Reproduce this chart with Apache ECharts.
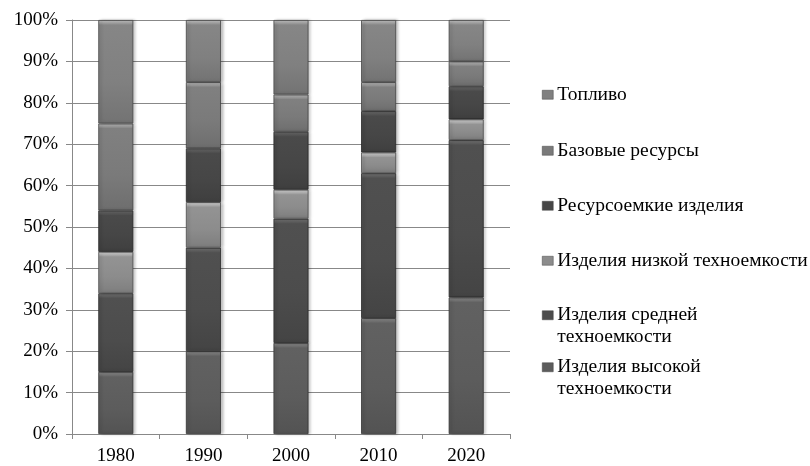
<!DOCTYPE html>
<html><head><meta charset="utf-8">
<script src="https://cdn.jsdelivr.net/npm/echarts@6/dist/echarts.min.js"></script>
<style>html,body{margin:0;padding:0;background:#fff}#c{width:810px;height:466px}</style>
</head><body><div id="c"></div>
<script>
const categories = ['1980', '1990', '2000', '2010', '2020'];
const seriesNames = ['Изделия высокой техноемкости', 'Изделия средней техноемкости', 'Изделия низкой техноемкости', 'Ресурсоемкие изделия', 'Базовые ресурсы', 'Топливо'];
const highTech = [15, 20, 22, 28, 33];
const mediumTech = [19, 25, 30, 35, 38];
const lowTech = [10, 11, 7, 5, 5];
const resourceIntensive = [10, 13, 14, 10, 8];
const basicResources = [21, 16, 9, 7, 6];
const fuel = [25, 15, 18, 15, 10];
const yTicks = [0, 10, 20, 30, 40, 50, 60, 70, 80, 90, 100];

const values = [highTech, mediumTech, lowTech, resourceIntensive, basicResources, fuel];
const colors = ['#5c5c5c', '#4c4c4c', '#8c8c8c', '#464646', '#7a7a7a', '#808080'];

function shade(hex, f) {
  const n = parseInt(hex.slice(1), 16);
  const r = Math.max(0, Math.min(255, Math.round(((n >> 16) & 255) * f)));
  const g = Math.max(0, Math.min(255, Math.round(((n >> 8) & 255) * f)));
  const b = Math.max(0, Math.min(255, Math.round((n & 255) * f)));
  return 'rgb(' + r + ',' + g + ',' + b + ')';
}
// plot height in px is 416 for 100%, used only for the bevel highlight size
function grad(c, v) {
  const segPx = v * 4.16;
  const h = Math.min(0.3, 5 / segPx);
  return new echarts.graphic.LinearGradient(0, 0, 0, 1, [
    {offset: 0, color: shade(c, 1.55)},
    {offset: h * 0.5, color: shade(c, 1.3)},
    {offset: h, color: shade(c, 1.05)},
    {offset: 0.6, color: c},
    {offset: 1, color: shade(c, 0.9)}
  ]);
}

const font = 'Liberation Serif';
const series = seriesNames.map((name, i) => ({
  name: name,
  type: 'bar',
  stack: 'total',
  barWidth: 35,
  data: values[i].map(v => ({
    value: v,
    itemStyle: { color: grad(colors[i], v) }
  })),
  itemStyle: {
    color: colors[i],
    borderColor: shade(colors[i], 0.55),
    borderWidth: 0.8,
    shadowColor: 'rgba(0,0,0,0.25)',
    shadowBlur: 3,
    shadowOffsetX: 2
  },
  emphasis: { disabled: true }
}));

const legendTops = [79, 135, 190, 245, 278, 330];
const legendOrder = [5, 4, 3, 2, 1, 0];
const legendLabels = {
  'Изделия средней техноемкости': '\nИзделия средней\nтехноемкости',
  'Изделия высокой техноемкости': '\nИзделия высокой\nтехноемкости'
};
const legends = legendOrder.map((si, k) => ({
  data: [seriesNames[si]],
  left: 537,
  top: legendTops[k],
  orient: 'vertical',
  icon: 'rect',
  itemWidth: 11,
  itemHeight: 9,
  itemGap: 0,
  selectedMode: false,
  formatter: n => legendLabels[n] || n,
  itemStyle: { borderWidth: 0.5, borderColor: '#444' },
  textStyle: { fontFamily: font, fontSize: 19.5, color: '#000', lineHeight: 21.5, padding: [0, 0, 0, -1] }
}));

const chart = echarts.init(document.getElementById('c'));
chart.setOption({
  animation: false,
  color: colors,
  grid: { left: 72, right: 300, top: 20, bottom: 30 },
  legend: legends,
  xAxis: {
    type: 'category',
    data: categories,
    axisLine: { lineStyle: { color: '#888', width: 1 } },
    axisTick: { show: true, length: 5, lineStyle: { color: '#888' } },
    axisLabel: { fontFamily: font, fontSize: 19, color: '#000', margin: 13 }
  },
  yAxis: {
    type: 'value',
    min: 0, max: 100, interval: 10,
    axisLine: { show: true, lineStyle: { color: '#888', width: 1 } },
    axisTick: { show: true, length: 6, lineStyle: { color: '#888' } },
    splitLine: { lineStyle: { color: '#888', width: 1 } },
    axisLabel: { fontFamily: font, fontSize: 19, color: '#000', margin: 14, formatter: v => yTicks.includes(v) ? v + '%' : '' }
  },
  series: series
});
</script></body></html>
